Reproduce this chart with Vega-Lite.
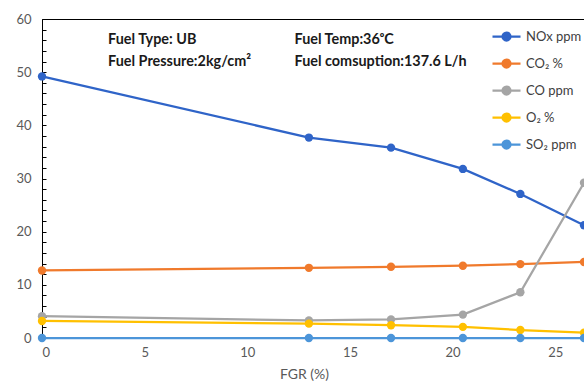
{
  "$schema": "https://vega.github.io/schema/vega-lite/v6.json",
  "autosize": "none",
  "width": 542,
  "height": 319,
  "padding": {"left": 42, "top": 19, "right": 0, "bottom": 45},
  "background": "white",
  "config": {
    "font": "Lato",
    "view": {"stroke": "#000", "strokeWidth": 1}
  },
  "datasets": {
    "series": [
      {"fgr": 0, "species": "NOx ppm", "value": 49.2},
      {"fgr": 13, "species": "NOx ppm", "value": 37.7},
      {"fgr": 17, "species": "NOx ppm", "value": 35.8},
      {"fgr": 20.5, "species": "NOx ppm", "value": 31.8},
      {"fgr": 23.3, "species": "NOx ppm", "value": 27.1},
      {"fgr": 26.4, "species": "NOx ppm", "value": 21.2},
      {"fgr": 0, "species": "CO₂ %", "value": 12.7},
      {"fgr": 13, "species": "CO₂ %", "value": 13.2},
      {"fgr": 17, "species": "CO₂ %", "value": 13.4},
      {"fgr": 20.5, "species": "CO₂ %", "value": 13.6},
      {"fgr": 23.3, "species": "CO₂ %", "value": 13.9},
      {"fgr": 26.4, "species": "CO₂ %", "value": 14.3},
      {"fgr": 0, "species": "CO ppm", "value": 4.1},
      {"fgr": 13, "species": "CO ppm", "value": 3.3},
      {"fgr": 17, "species": "CO ppm", "value": 3.5},
      {"fgr": 20.5, "species": "CO ppm", "value": 4.4},
      {"fgr": 23.3, "species": "CO ppm", "value": 8.6},
      {"fgr": 26.4, "species": "CO ppm", "value": 29.2},
      {"fgr": 0, "species": "O₂ %", "value": 3.2},
      {"fgr": 13, "species": "O₂ %", "value": 2.7},
      {"fgr": 17, "species": "O₂ %", "value": 2.4},
      {"fgr": 20.5, "species": "O₂ %", "value": 2.1},
      {"fgr": 23.3, "species": "O₂ %", "value": 1.5},
      {"fgr": 26.4, "species": "O₂ %", "value": 1.0},
      {"fgr": 0, "species": "SO₂ ppm", "value": 0},
      {"fgr": 13, "species": "SO₂ ppm", "value": 0},
      {"fgr": 17, "species": "SO₂ ppm", "value": 0},
      {"fgr": 20.5, "species": "SO₂ ppm", "value": 0},
      {"fgr": 23.3, "species": "SO₂ ppm", "value": 0},
      {"fgr": 26.4, "species": "SO₂ ppm", "value": 0}
    ],
    "notes": [
      {"fgr": 3.22, "value": 56.0, "label": "Fuel Type: UB"},
      {"fgr": 3.22, "value": 51.9, "label": "Fuel Pressure:2kg/cm²"},
      {"fgr": 12.3, "value": 56.0, "label": "Fuel Temp:36ᵒC"},
      {"fgr": 12.3, "value": 51.9, "label": "Fuel comsuption:137.6 L/h"}
    ]
  },
  "encoding": {
    "x": {
      "field": "fgr", "type": "quantitative",
      "scale": {"domain": [0, 26.4], "nice": false},
      "axis": {
        "title": "FGR (%)", "values": [0, 5, 10, 15, 20, 25],
        "grid": false, "ticks": false, "domain": false,
        "labelPadding": 8, "labelFontSize": 13, "labelColor": "#595959",
        "titleFontSize": 14, "titleFontWeight": "normal", "titleColor": "#595959",
        "titlePadding": 8, "titleX": 262, "titleAnchor": "middle"
      }
    },
    "y": {
      "field": "value", "type": "quantitative",
      "scale": {"domain": [0, 60], "nice": false},
      "axis": {
        "title": null, "grid": false,
        "values": [0,2,4,6,8,10,12,14,16,18,20,22,24,26,28,30,32,34,36,38,40,42,44,46,48,50,52,54,56,58,60],
        "labelExpr": "datum.value % 10 == 0 ? datum.label : ''",
        "labelOverlap": false, "labelBound": false, "labelFlush": false,
        "tickSize": -4, "tickColor": "#000", "domainColor": "#000",
        "labelPadding": 15, "labelFontSize": 13, "labelColor": "#595959"
      }
    }
  },
  "layer": [
    {
      "data": {"name": "series"},
      "mark": {"type": "line", "strokeWidth": 2.25},
      "encoding": {
        "color": {
          "field": "species", "type": "nominal",
          "scale": {
            "domain": ["NOx ppm", "CO₂ %", "CO ppm", "O₂ %", "SO₂ ppm"],
            "range": ["#2F64C8", "#F07A2C", "#A5A5A5", "#FFC000", "#4C95D9"]
          },
          "legend": {
            "title": null, "orient": "none", "legendX": 453, "legendY": 6,
            "symbolType": "M-1.4,0H1.4M-0.4,0A0.4,0.4 0 1,0 0.4,0A0.4,0.4 0 1,0 -0.4,0",
            "symbolSize": 400, "symbolStrokeWidth": 2.25,
            "labelFontSize": 13, "labelColor": "#404040", "labelOffset": 8,
            "rowPadding": 7, "fillColor": "white",
            "encode": {"symbols": {"update": {"fill": {"scale": "color", "field": "value"}}}}
          }
        }
      }
    },
    {
      "data": {"name": "series"},
      "mark": {"type": "point", "filled": true, "opacity": 1, "size": 70},
      "encoding": {
        "color": {"field": "species", "type": "nominal"}
      }
    },
    {
      "data": {"name": "notes"},
      "mark": {"type": "text", "align": "left", "baseline": "middle", "fontWeight": "bold", "fontSize": 14.4, "color": "#1a1a1a"},
      "encoding": {
        "text": {"field": "label"}
      }
    }
  ]
}
